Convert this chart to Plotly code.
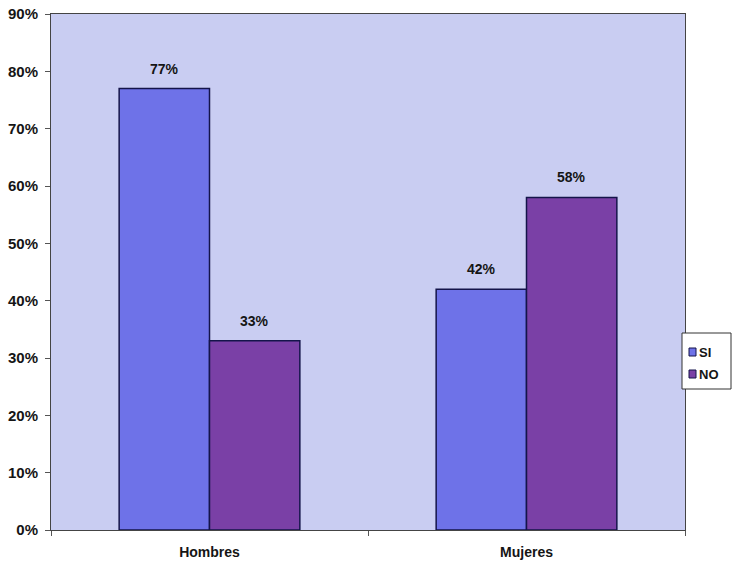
import plotly.graph_objects as go

# Survey results by sex (percent)
categories = ["Hombres", "Mujeres"]
series_names = ["SI", "NO"]
si_values = [77, 42]
no_values = [33, 58]
y_ticks = [0, 10, 20, 30, 40, 50, 60, 70, 80, 90]
y_tick_labels = [f"{v}%" for v in y_ticks]

font_family = "Liberation Sans, Arial, sans-serif"
text_color = "#151515"
series_colors = ["#6e72e8", "#7a40a6"]
bar_line = dict(color="#14144a", width=1.5)

W, H = 732, 565
M_L, M_R, M_T, M_B = 51, 47, 14, 35
BARGAP = 0.43

fig = go.Figure()
for name, vals, col in zip(series_names, [si_values, no_values], series_colors):
    fig.add_trace(go.Bar(
        name=name, x=categories, y=vals,
        marker=dict(color=col, line=bar_line),
    ))

# Value labels above each bar (shifted half a bar width left/right of the category)
plot_w = W - M_L - M_R
bar_px = plot_w / len(categories) * (1 - BARGAP) / len(series_names)
annotations = []
for s, vals in enumerate([si_values, no_values]):
    shift = (s - (len(series_names) - 1) / 2) * bar_px
    for cat, v in zip(categories, vals):
        annotations.append(dict(
            x=cat, y=v, xref="x", yref="y", text=f"<b>{v}%</b>",
            showarrow=False, xanchor="center", yanchor="bottom",
            xshift=shift, yshift=10,
            font=dict(size=14, family=font_family, color=text_color),
        ))


# Legend box drawn in paper coordinates (converted from pixel positions)
def px_x(px):
    return (px - M_L) / (W - M_L - M_R)


def px_y(py):
    return (H - M_B - py) / (H - M_T - M_B)


shapes = [dict(type="rect", xref="paper", yref="paper",
               x0=px_x(682), x1=px_x(731), y0=px_y(389), y1=px_y(333),
               line=dict(color="#333", width=1), fillcolor="white", layer="above")]
for i, (name, col) in enumerate(zip(series_names, series_colors)):
    cy = 352 + i * 22
    shapes.append(dict(type="rect", xref="paper", yref="paper",
                       x0=px_x(689), x1=px_x(696), y0=px_y(cy + 4), y1=px_y(cy - 4),
                       line=dict(color="#14144a", width=1), fillcolor=col, layer="above"))
    annotations.append(dict(xref="paper", yref="paper", x=px_x(697), y=px_y(cy),
                            xanchor="left", yanchor="middle", showarrow=False,
                            text=f"<b>{name}</b>",
                            font=dict(size=13, family=font_family, color=text_color)))

fig.update_layout(
    width=W, height=H,
    margin=dict(l=M_L, r=M_R, t=M_T, b=M_B, autoexpand=False),
    paper_bgcolor="white",
    plot_bgcolor="#c9cdf2",
    barmode="group",
    bargap=BARGAP,
    bargroupgap=0,
    font=dict(family=font_family, size=14, color=text_color),
    showlegend=False,
    shapes=shapes,
    annotations=annotations,
)
fig.update_xaxes(
    tickson="boundaries", ticks="outside", ticklen=5, tickcolor="#555",
    tickmode="array", tickvals=categories, ticktext=[f"<b>{c}</b>" for c in categories],
    showline=True, linecolor="#444", linewidth=1, mirror=True,
    tickfont=dict(size=14, family=font_family, color=text_color),
    ticklabelstandoff=9,
    showgrid=False,
)
fig.update_yaxes(
    range=[0, 90], tickmode="array", tickvals=y_ticks,
    ticktext=[f"<b>{t}</b>" for t in y_tick_labels],
    ticks="outside", ticklen=5, tickcolor="#555",
    showline=True, linecolor="#444", linewidth=1, mirror=True,
    tickfont=dict(size=15, family=font_family, color=text_color),
    ticklabelstandoff=4,
    showgrid=False, zeroline=False,
)

fig.write_html("out.html")
